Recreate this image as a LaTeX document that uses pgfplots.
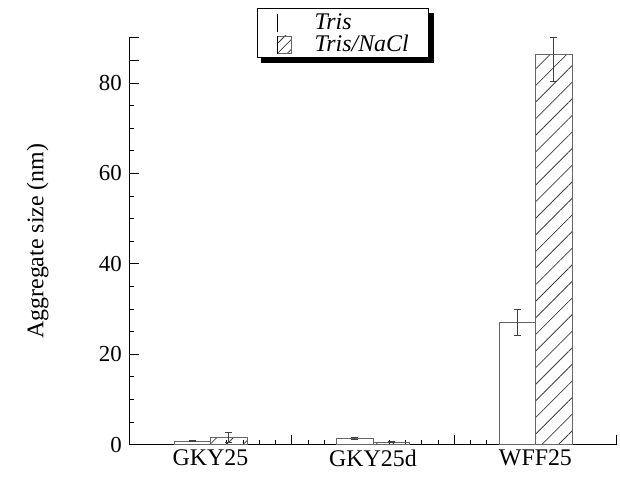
\documentclass[border=0pt]{standalone}
\usepackage{fontspec}
\setmainfont{Liberation Serif}
\usepackage{pgfplots}
\pgfplotsset{compat=1.18}
\usetikzlibrary{patterns.meta}

\begin{document}
\begin{tikzpicture}
\begin{axis}[
  scale only axis, width=490pt, height=409pt,
  xmin=0.5, xmax=3.5, ymin=0, ymax=90,
  axis x line*=bottom, axis y line*=left,
  axis line style={line width=1pt,-},
  tick align=inside,
  major tick length=5pt, minor tick length=5pt,
  tick style={black, line width=0.8pt},
  xtick={1,2,3}, xticklabels={GKY25,GKY25d,WFF25},
  minor x tick num=9,
  extra x ticks={0.5,1.5,2.5,3.5}, extra x tick labels={},
  extra x tick style={major tick length=10pt},
  ytick={0,20,40,60,80}, minor y tick num=3,
  extra y ticks={0,20,40,60,80,85,90}, extra y tick labels={},
  extra y tick style={major tick length=10pt},
  /pgf/number format/assume math mode=true,
  yticklabel style={font=\fontsize{23}{27}\selectfont, xshift=-4pt},
  xticklabel style={font=\fontsize{24}{28}\selectfont, yshift=-2pt},
  ylabel={Aggregate size (nm)},
  ylabel style={font=\fontsize{24}{28}\selectfont, at={(axis description cs:-0.188,0.5)}, anchor=center},
  legend style={name=leg, at={(rel axis cs:0.261,1.073)}, anchor=north west,
    draw=black, line width=1pt, fill=white,
    font=\fontsize{24}{26}\selectfont\itshape, inner xsep=18pt, inner ysep=3pt,
    row sep=0pt, legend cell align=left},
  error bars/error bar style={line width=0.8pt, black!75},
  error bars/error mark options={rotate=90, mark size=3.5pt, line width=0.8pt, black!75},
]
\coordinate (O) at (rel axis cs:0,0);
\addplot[ybar, bar width=0.225, bar shift=0pt, draw=black!60, line width=0.8pt, fill=white,
  error bars/.cd, y dir=both, y explicit,
  /pgfplots/legend image code/.code={\draw[black, line width=0.8pt] (0pt,-10pt) -- (0pt,8pt); \path (-2pt,0pt) (35pt,0pt);}]
  table[x=x, y=y, y error plus=ep, y error minus=em] {
x y ep em
0.8875 0.8 0.1 0.1
1.8875 1.3 0.2 0.2
2.8875 27.1 2.9 2.9
};
\addlegendentry{Tris}
\addplot[ybar, bar width=0.225, bar shift=0pt, draw=black!60, line width=0.8pt,
  pattern={Lines[angle=45, distance=11.8pt, line width=0.8pt]}, pattern color=black!75,
  error bars/.cd, y dir=both, y explicit,
  /pgfplots/legend image code/.code={\fill[pattern={Lines[angle=45, distance=7pt, line width=0.8pt]}, pattern color=black!75] (0pt,-10pt) rectangle (14pt,8pt); \draw[black, line width=0.8pt] (0pt,-10pt) -- (0pt,8pt); \path (-2pt,0pt) (35pt,0pt);}]
  table[x=x, y=y, y error plus=ep, y error minus=em] {
x y ep em
1.1125 1.5 1.1 1.1
2.1125 0.6 0.15 0.15
3.1125 86.4 3.6 6.1
};
\addlegendentry{Tris/NaCl}
\end{axis}
\fill[black] ([shift={(0pt,-4.5pt)}]leg.north east) rectangle ([shift={(4.5pt,-4.5pt)}]leg.south east);
\fill[black] ([shift={(4.5pt,0pt)}]leg.south west) rectangle ([shift={(4.5pt,-4.5pt)}]leg.south east);
\path (O) ++(-130pt,-44pt) rectangle ++(620pt,491pt);
\end{tikzpicture}
\end{document}
